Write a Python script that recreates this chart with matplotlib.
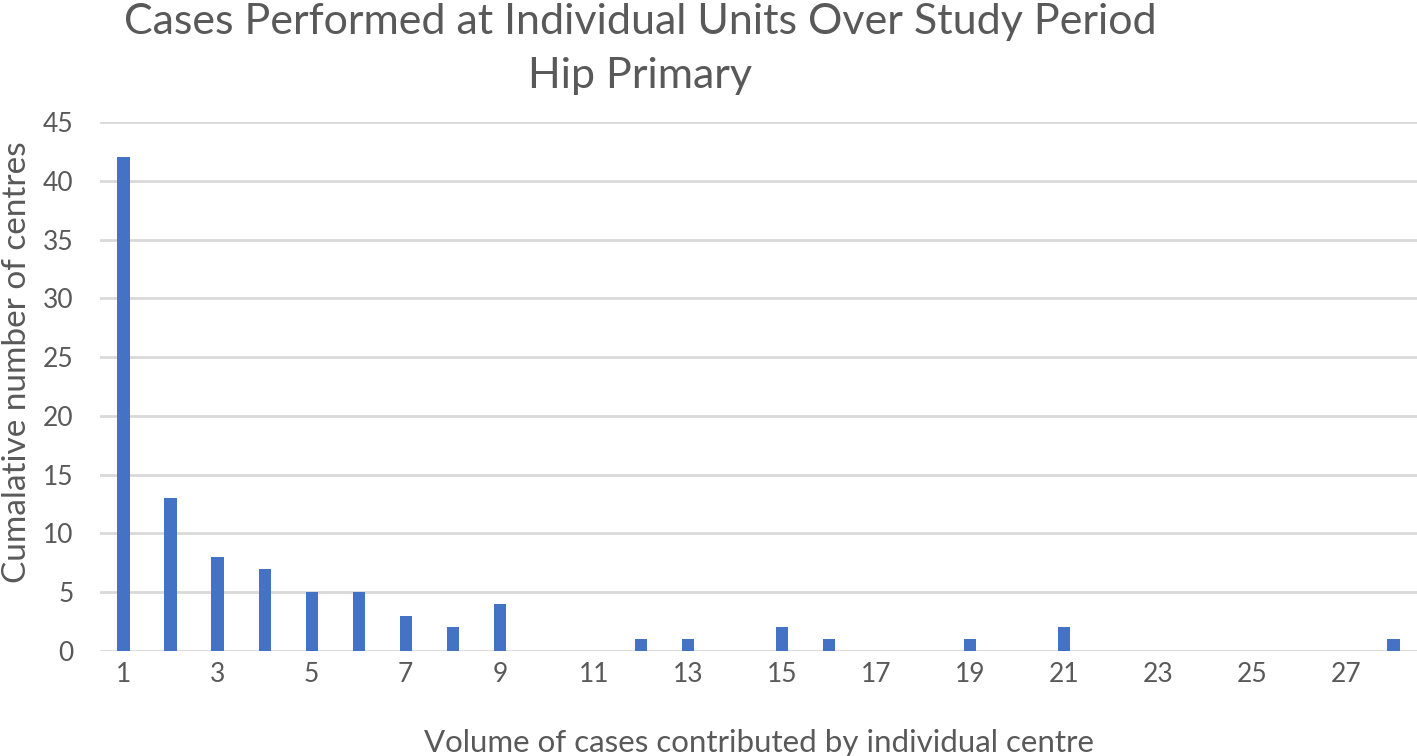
import numpy as np
import matplotlib.pyplot as plt

# number of cases contributed per centre -> count of centres
volumes = list(range(1, 29))
centres = [42, 13, 8, 7, 5, 5, 3, 2, 4, 0, 0, 1, 1, 0, 2, 1, 0, 0, 1, 0, 2,
           0, 0, 0, 0, 0, 0, 1]
tick_labels = [str(v) for v in range(1, 29, 2)]

plt.rcParams['font.family'] = ['Lato', 'DejaVu Sans']
grey = '#595959'

fig = plt.figure(figsize=(14.17, 7.56), dpi=100)
ax = fig.add_axes([100 / 1417, 1 - 651 / 756, 1 - 100 / 1417, (651 - 122) / 756])

ax.bar(volumes, centres, width=0.26, color='#4472C4', zorder=3)

ax.set_xlim(0.5, 28.5)
ax.set_ylim(0, 45)
ax.set_yticks(np.arange(0, 46, 5))
ax.set_xticks(range(1, 29, 2))
ax.set_xticklabels(tick_labels)
ax.yaxis.grid(True, color='#d9d9d9', linewidth=2, zorder=0)
ax.tick_params(length=0, labelsize=19, colors=grey)
ax.tick_params(axis='x', pad=8)
ax.tick_params(axis='y', pad=19)
for s in ax.spines.values():
    s.set_visible(False)

ax.set_xlabel('Volume of cases contributed by individual centre', fontsize=22.5,
              color=grey)
ax.xaxis.set_label_coords(0.5, -0.148)
ax.set_ylabel('Cumalative number of centres', fontsize=24, color=grey)
ax.yaxis.set_label_coords(-0.052, 0.546)

fig.text(640 / 1417, 1 - 22 / 756, 'Cases Performed at Individual Units Over Study Period',
         ha='center', va='center', fontsize=31, color=grey)
fig.text(640 / 1417, 1 - 76 / 756, 'Hip Primary',
         ha='center', va='center', fontsize=31, color=grey)

fig.savefig('out.png', dpi=100)
